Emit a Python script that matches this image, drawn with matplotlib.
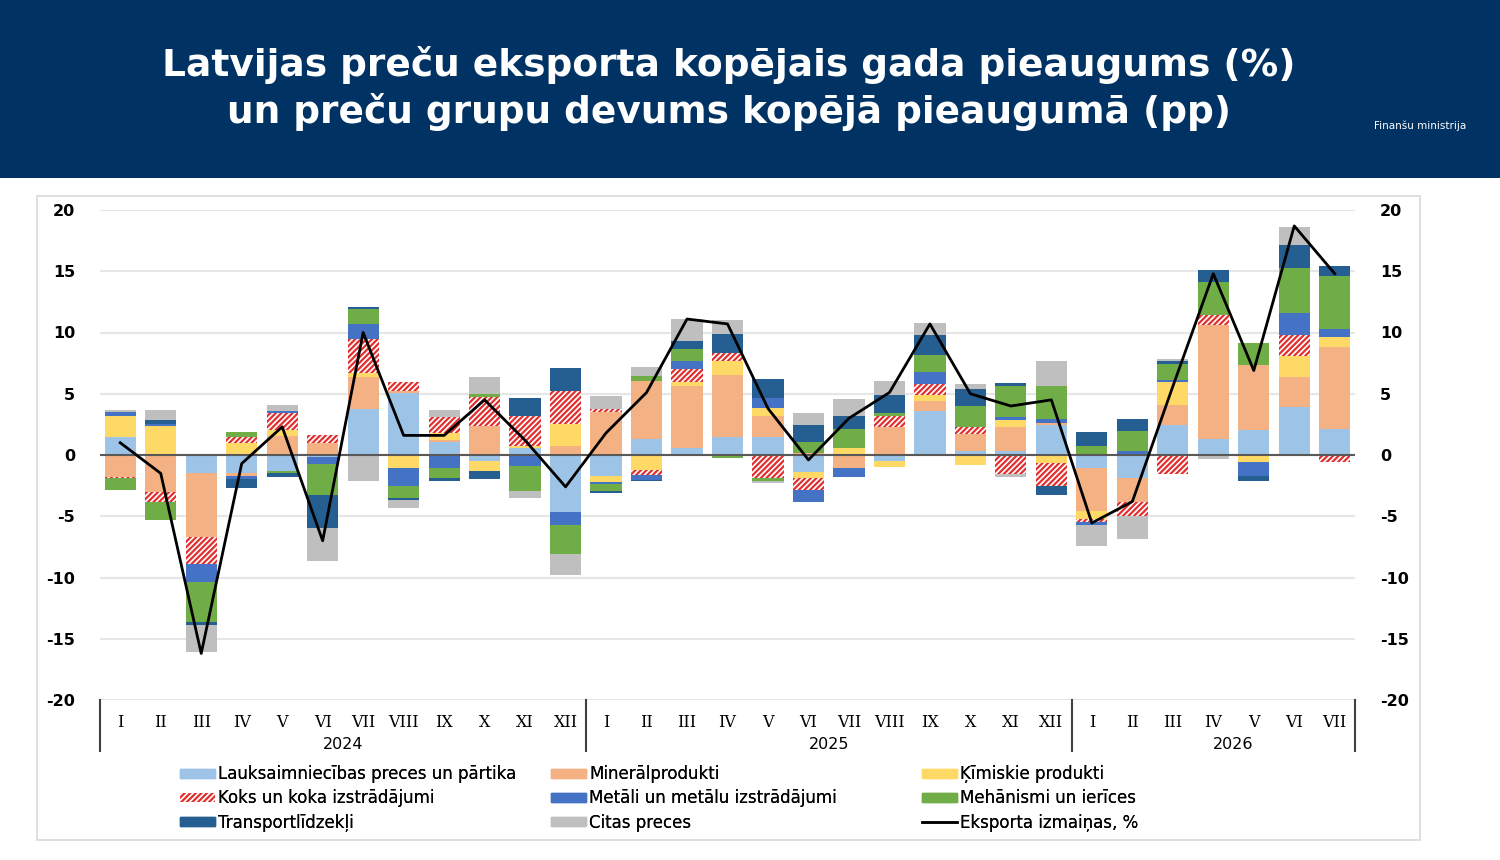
import numpy as np
import matplotlib.pyplot as plt
from matplotlib.patches import Rectangle
from matplotlib.lines import Line2D

months = ['I', 'II', 'III', 'IV', 'V', 'VI', 'VII', 'VIII', 'IX', 'X', 'XI', 'XII'] * 2 + \
         ['I', 'II', 'III', 'IV', 'V', 'VI', 'VII']
years = ['2024', '2025', '2026']

names = ['Lauksaimniecības preces un pārtika', 'Minerālprodukti', 'Ķīmiskie produkti',
         'Koks un koka izstrādājumi', 'Metāli un metālu izstrādājumi', 'Mehānismi un ierīces',
         'Transportlīdzekļi', 'Citas preces']

agri = [1.44, 0, -1.5, -1.47, -1.33, -0.15, 3.75, 5.1, 1.03, -0.45, 0.57, -4.65,
        -1.74, 1.3, 0.57, 1.47, 1.44, -1.41, 0, -0.52, 3.56, 0.3, 0.3, 2.48,
        -1.06, -1.88, 2.42, 1.3, 2.07, 3.89, 2.12]
mineral = [-1.82, -3.0, -5.2, -0.25, 1.58, 0.95, 2.65, 0.15, 0.2, 2.34, 0, 0.7,
           3.48, 4.73, 5.03, 5.03, 1.71, 0.16, -1.09, 2.26, 0.82, 1.41, 1.96, 0.14,
           -3.54, -1.96, 1.63, 9.33, 5.25, 2.45, 6.67]
chem = [1.77, 2.34, 0, 1.0, 0.45, 0, 0.28, -1.05, 0.55, -0.85, 0.2, 1.85,
        -0.44, -1.2, 0.4, 1.2, 0.68, -0.49, 0.57, -0.46, 0.49, -0.79, 0.63, -0.65,
        -0.63, 0, 1.88, 0, -0.6, 1.71, 0.82]
wood = [-0.08, -0.85, -2.2, 0.45, 1.4, 0.7, 2.8, 0.7, 1.35, 2.4, 2.4, 2.64,
        0.27, -0.44, 1.0, 0.63, -1.88, -0.93, 0, 0.9, 0.95, 0.57, -1.52, -1.85,
        -0.22, -1.17, -1.52, 0.82, 0, 1.71, -0.6]
metal = [0.3, 0.2, -1.5, -0.2, 0.2, -0.6, 1.2, -1.5, -1.1, 0, -0.87, -1.03,
         -0.2, -0.38, 0.7, 0, 0.82, -1.0, -0.71, 0, 0.95, 0, 0.22, 0.35,
         -0.24, 0.3, 0.22, 0, -1.14, 1.82, 0.68]
mech = [-0.98, -1.45, -3.2, 0.45, -0.15, -2.5, 1.2, -1.0, -0.8, 0.2, -2.1, -2.37,
        -0.54, 0.38, 0.95, -0.27, -0.27, 0.87, 1.55, 0.27, 1.41, 1.74, 2.5, 2.64,
        0.76, 1.63, 1.3, 2.67, 1.82, 3.67, 4.3]
transport = [0, 0.3, -0.3, -0.8, -0.3, -2.7, 0.2, -0.15, -0.2, -0.63, 1.5, 1.9,
             -0.2, -0.14, 0.68, 1.55, 1.58, 1.44, 1.03, 1.44, 1.58, 1.36, 0.27, -0.73,
             1.12, 1.03, 0.2, 0.95, -0.41, 1.9, 0.87]
other = [0.2, 0.8, -2.2, 0, 0.45, -2.7, -2.15, -0.65, 0.55, 1.4, -0.57, -1.74,
         1.1, 0.76, 1.74, 1.1, -0.14, 0.95, 1.44, 1.2, 1.0, 0.41, -0.27, 2.1,
         -1.77, -1.82, 0.2, -0.33, 0, 1.44, 0]
total = [1.0, -1.5, -16.2, -0.7, 2.3, -7.0, 10.0, 1.6, 1.6, 4.5, 1.2, -2.6,
         1.8, 5.1, 11.1, 10.7, 3.8, -0.4, 3.0, 5.1, 10.7, 5.0, 4.0, 4.5,
         -5.55, -3.8, 5.6, 14.8, 6.9, 18.7, 14.8]

series = [agri, mineral, chem, wood, metal, mech, transport, other]
colors = ['#9DC3E6', '#F4B183', '#FFD966', 'white', '#4472C4', '#70AD47', '#255E91', '#BFBFBF']

plt.rcParams['hatch.linewidth'] = 1.6
plt.rcParams['axes.unicode_minus'] = False
fig = plt.figure(figsize=(15, 8.6), dpi=100)

# header band
fig.patches.append(Rectangle((0, 1 - 178 / 860), 1, 178 / 860, transform=fig.transFigure,
                             facecolor='#003263', edgecolor='none', zorder=-2))
fig.text(0.486, 0.925, 'Latvijas preču eksporta kopējais gada pieaugums (%)', color='white',
         fontsize=27, fontweight='bold', ha='center', va='center')
fig.text(0.486, 0.870, 'un preču grupu devums kopējā pieaugumā (pp)', color='white',
         fontsize=27, fontweight='bold', ha='center', va='center')
fig.text(0.947, 0.854, 'Finanšu ministrija', color='white', fontsize=7.5, ha='center', va='center')
# chart panel
fig.patches.append(Rectangle((37 / 1500, 1 - 840 / 860), 1383 / 1500, 644 / 860,
                             transform=fig.transFigure, facecolor='white',
                             edgecolor='#D9D9D9', linewidth=1.2, zorder=-2))

ax = fig.add_axes([100 / 1500, 1 - 700 / 860, 1255 / 1500, 490 / 860])
ax.set_facecolor('none')
x = np.arange(len(months))
pos = np.zeros(len(x))
neg = np.zeros(len(x))
for vals, col, name in zip(series, colors, names):
    v = np.array(vals, dtype=float)
    base = np.where(v >= 0, pos, neg)
    if name.startswith('Koks'):
        ax.bar(x, v, 0.77, bottom=base, facecolor='white', edgecolor='#E0302F',
               hatch='//////', linewidth=0, zorder=3)
    else:
        ax.bar(x, v, 0.77, bottom=base, color=col, linewidth=0, zorder=3)
    pos = np.where(v >= 0, pos + v, pos)
    neg = np.where(v < 0, neg + v, neg)

ax.plot(x, total, color='black', linewidth=2, zorder=5)
ax.axhline(0, color='#595959', linewidth=1.5, zorder=4)

ax.set_xlim(-0.5, len(x) - 0.5)
ax.set_ylim(-20, 20)
ax.set_yticks(range(-20, 21, 5))
ax.grid(axis='y', color='#E6E6E6', linewidth=1.5, zorder=0)
for s in ax.spines.values():
    s.set_visible(False)
ax.tick_params(axis='y', length=0, labelsize=11.5, pad=18, labelright=True, right=False)
for lbl in ax.get_yticklabels():
    lbl.set_fontweight('bold')
ax.set_xticks(x)
ax.set_xticklabels(months, fontsize=11.5, family='DejaVu Serif')
ax.tick_params(axis='x', length=0, pad=10)

# year groups
for b in [-0.5, 11.5, 23.5, len(x) - 0.5]:
    ax.plot([b, b], [0, -0.105], transform=ax.get_xaxis_transform(), color='#404040',
            linewidth=1.5, clip_on=False)
for yr, c in zip(years, [5.5, 17.5, 27.5]):
    ax.text(c, -0.09, yr, transform=ax.get_xaxis_transform(), ha='center', va='center',
            fontsize=11.5)

handles = [Rectangle((0, 0), 1, 1, color=c) for c in colors]
handles[3] = Rectangle((0, 0), 1, 1, facecolor='white', edgecolor='#E0302F',
                       hatch='//////', linewidth=0)
handles.append(Line2D([0], [0], color='black', linewidth=1.8))
labels = names + ['Eksporta izmaiņas, %']
# three legend columns placed separately
for col, xpos in zip([[0, 3, 6], [1, 4, 7], [2, 5, 8]], [170, 541, 912]):
    leg = fig.legend([handles[i] for i in col], [labels[i] for i in col],
                     loc='upper left', bbox_to_anchor=(xpos / 1500, 1 - 755 / 860),
                     frameon=False, fontsize=12, handlelength=2.1, handleheight=0.45,
                     handletextpad=0.2, labelspacing=0.38, borderpad=0.1)
    fig.add_artist(leg)

fig.savefig('out.png', dpi=100)
